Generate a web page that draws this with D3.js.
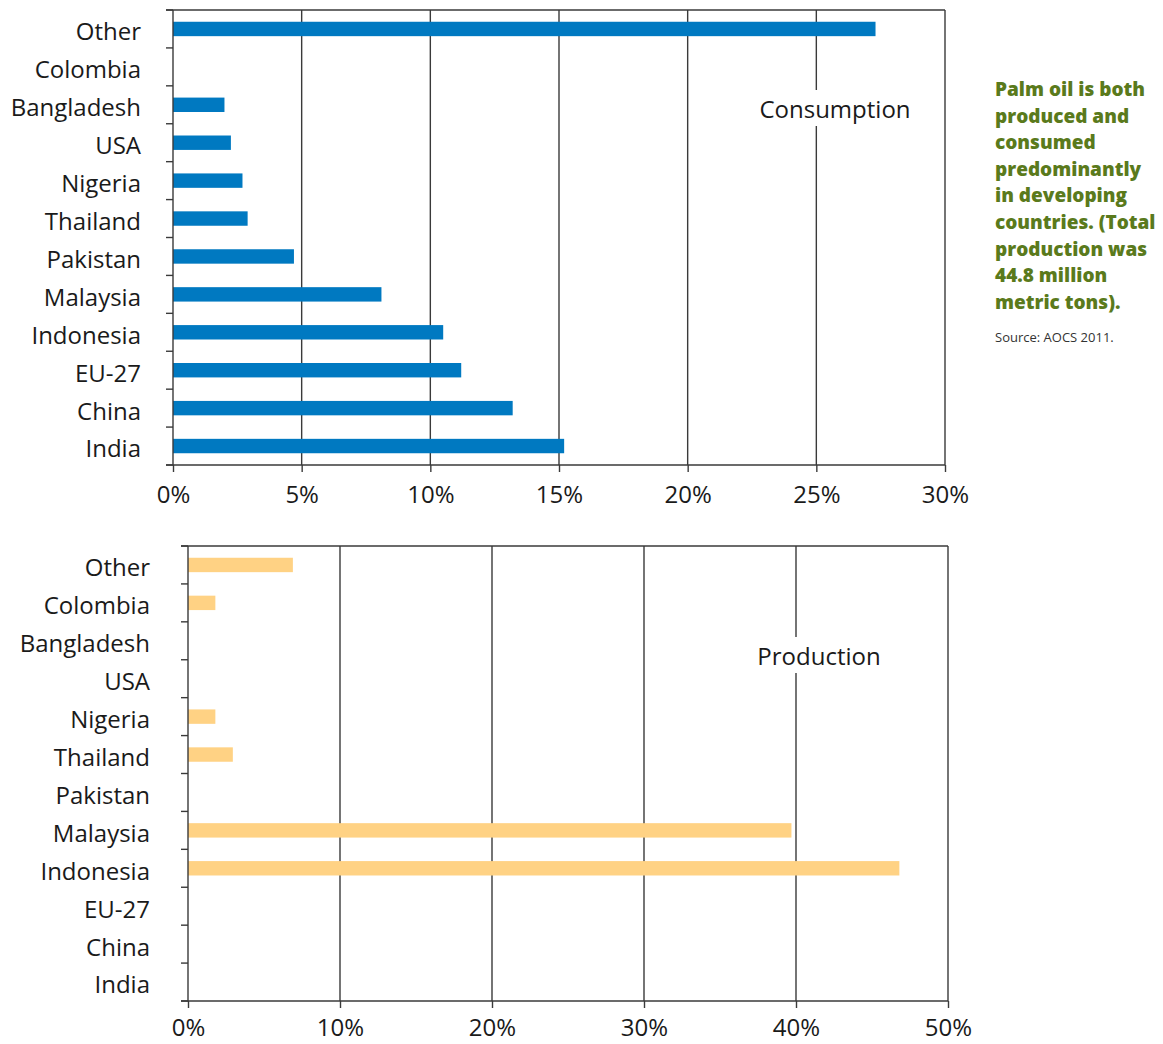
<!DOCTYPE html>
<html>
<head>
<meta charset="utf-8">
<script src="https://cdn.jsdelivr.net/npm/d3@7"></script>
<style>
  body { margin: 0; background: #fff; }
  text { font-family: "Open Sans", sans-serif; fill: #1a1a1a; }
  .grid line, .frame { stroke: #3a3a3a; stroke-width: 1.4px; }
</style>
</head>
<body>
<div id="vis"></div>
<script>
// data
const countries = ['Other', 'Colombia', 'Bangladesh', 'USA', 'Nigeria', 'Thailand',
                   'Pakistan', 'Malaysia', 'Indonesia', 'EU-27', 'China', 'India']
const consumption = [27.3, 0, 2.0, 2.25, 2.7, 2.9, 4.7, 8.1, 10.5, 11.2, 13.2, 15.2]
const production = [6.9, 1.8, 0, 0, 1.8, 2.95, 0, 39.7, 46.8, 0, 0, 0]
const consTicks = [0, 5, 10, 15, 20, 25, 30]
const prodTicks = [0, 10, 20, 30, 40, 50]

const note = ['Palm oil is both', 'produced and', 'consumed', 'predominantly',
              'in developing', 'countries. (Total', 'production was',
              '44.8 million', 'metric tons).']

const svg = d3.select('#vis').append('svg')
  .attr('width', 1163)
  .attr('height', 1044)

// draws one horizontal bar panel
function drawPanel(cfg) {
  const g = svg.append('g')

  const x = d3.scaleLinear().domain([0, cfg.max]).range([cfg.left, cfg.right])
  const y = d3.scaleBand().domain(countries).range([cfg.top, cfg.bottom])
    .paddingInner(0.62).paddingOuter(0.31)

  // vertical grid lines
  g.append('g').attr('class', 'grid')
    .selectAll('line')
    .data(cfg.ticks.slice(1))
    .join('line')
    .attr('x1', d => x(d)).attr('x2', d => x(d))
    .attr('y1', cfg.top).attr('y2', cfg.bottom)

  // top frame line
  g.append('line').attr('class', 'frame')
    .attr('x1', cfg.left - 7).attr('x2', cfg.right)
    .attr('y1', cfg.top).attr('y2', cfg.top)

  // bars
  g.selectAll('.bar')
    .data(countries.map((c, i) => ({ c, v: cfg.values[i] })).filter(d => d.v > 0))
    .join('rect')
    .attr('class', 'bar')
    .attr('x', x(0))
    .attr('y', d => y(d.c))
    .attr('width', d => x(d.v) - x(0))
    .attr('height', y.bandwidth())
    .attr('fill', cfg.color)

  // label with white box cutting the grid line
  g.append('rect')
    .attr('x', cfg.labelX - 40).attr('y', cfg.labelY - 28)
    .attr('width', 80).attr('height', 36)
    .attr('fill', '#fff')
  g.append('text')
    .attr('x', cfg.labelX).attr('y', cfg.labelY)
    .attr('text-anchor', 'middle')
    .style('font-size', '24px')
    .text(cfg.label)

  // y axis line + ticks at category boundaries
  g.append('line').attr('class', 'frame')
    .attr('x1', cfg.left).attr('x2', cfg.left)
    .attr('y1', cfg.top).attr('y2', cfg.bottom)
  g.selectAll('.ytick')
    .data(d3.range(countries.length + 1))
    .join('line')
    .attr('class', 'frame ytick')
    .attr('x1', cfg.left - 7).attr('x2', cfg.left)
    .attr('y1', i => cfg.top + i * y.step())
    .attr('y2', i => cfg.top + i * y.step())

  // category labels
  g.selectAll('.ylab')
    .data(countries)
    .join('text')
    .attr('class', 'ylab')
    .attr('x', cfg.labelEnd)
    .attr('y', d => y(d) + y.bandwidth() / 2 + 3)
    .attr('dy', '0.35em')
    .attr('text-anchor', 'end')
    .style('font-size', '24px')
    .text(d => d)

  // x axis
  const xAxis = d3.axisBottom(x)
    .tickValues(cfg.ticks)
    .tickSize(7)
    .tickPadding(cfg.tickPad)
    .tickFormat(d => d + '%')
  const ax = g.append('g')
    .attr('transform', `translate(0,${cfg.bottom})`)
    .call(xAxis)
  ax.select('.domain').remove()
  ax.selectAll('line').attr('stroke', '#3a3a3a').attr('stroke-width', 1.4)
  ax.selectAll('text').style('font-size', '24px').style('font-family', '"Open Sans", sans-serif')
    .attr('fill', '#1a1a1a')
  g.append('line').attr('class', 'frame')
    .attr('x1', cfg.left - 7).attr('x2', cfg.right)
    .attr('y1', cfg.bottom).attr('y2', cfg.bottom)
}

drawPanel({
  values: consumption, ticks: consTicks, max: 30,
  left: 173, right: 945, top: 10, bottom: 465,
  color: '#0079c1', label: 'Consumption', labelX: 835, labelY: 118,
  labelEnd: 141, tickPad: 14
})

drawPanel({
  values: production, ticks: prodTicks, max: 50,
  left: 188, right: 948, top: 546, bottom: 1001,
  color: '#ffd284', label: 'Production', labelX: 819, labelY: 665,
  labelEnd: 150, tickPad: 11
})

// side note
const noteText = svg.append('text')
  .attr('x', 995).attr('y', 96)
  .style('font-size', '19px')
  .style('font-weight', '800')
  .style('fill', '#5a7a1c')
noteText.selectAll('tspan')
  .data(note)
  .join('tspan')
  .attr('x', 995)
  .attr('dy', (d, i) => i === 0 ? 0 : 26.6)
  .text(d => d)

svg.append('text')
  .attr('x', 995).attr('y', 342)
  .style('font-size', '13px')
  .style('fill', '#333')
  .text('Source: AOCS 2011.')
</script>
</body>
</html>
